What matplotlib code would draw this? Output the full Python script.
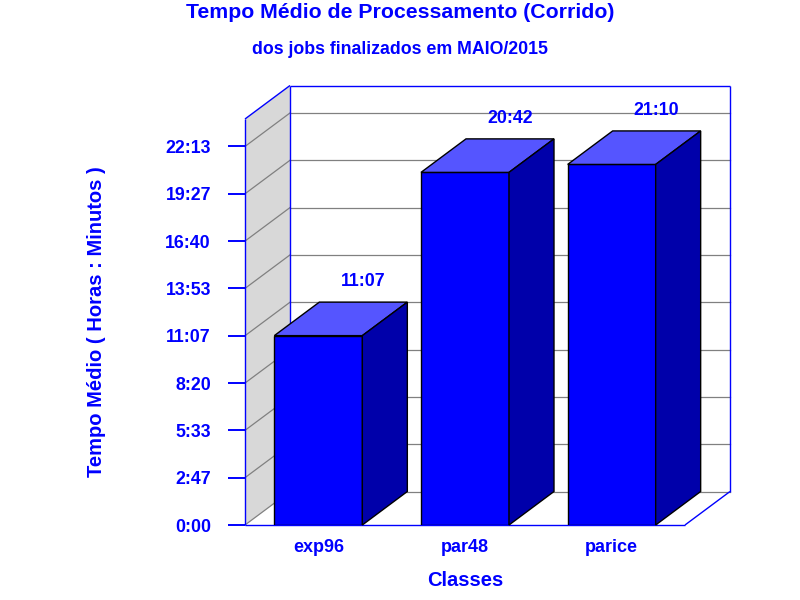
import numpy as np
import matplotlib.pyplot as plt
from matplotlib.patches import Polygon

plt.rcParams["font.family"] = ["Liberation Sans", "DejaVu Sans"]
plt.rcParams["font.weight"] = "bold"

# data
classes = ["exp96", "par48", "parice"]
value_labels = ["11:07", "20:42", "21:10"]  # horas:minutos
tick_seconds = [0, 10000, 20000, 30000, 40000, 50000, 60000, 70000, 80000]
tick_labels = ["0:00", "2:47", "5:33", "8:20", "11:07", "13:53", "16:40", "19:27", "22:13"]
y_max = 85800

title = "Tempo Médio de Processamento (Corrido)"
subtitle = "dos jobs finalizados em MAIO/2015"
xlabel = "Classes"
ylabel = "Tempo Médio ( Horas : Minutos )"

BLUE = "#0000FF"
TOP = "#5555FF"
SIDE = "#0000AA"
WALL = "#D8D8D8"
GRID = "#808080"
TXT = "#0000FF"

# pseudo 3D depth in pixels
DX_PX, DY_PX = 45, 33.5


def hm_to_seconds(s):
    h, m = s.split(":")
    return int(h) * 3600 + int(m) * 60


values = [hm_to_seconds(v) for v in value_labels]

fig = plt.figure(figsize=(8, 6), dpi=100)
W, H = 800, 600
ax = fig.add_axes([245 / W, 1 - 525 / H, 440 / W, 406 / H])
xmin, xmax = -0.5, 2.5
ax.set_xlim(xmin, xmax)
ax.set_ylim(0, y_max)
for sp in ax.spines.values():
    sp.set_visible(False)

# pixel depth -> data units
dx = DX_PX * (xmax - xmin) / 440
dy = DY_PX * y_max / 406

# side wall (left)
ax.add_patch(Polygon([(xmin, 0), (xmin + dx, dy), (xmin + dx, y_max + dy), (xmin, y_max)],
                     closed=True, facecolor=WALL, edgecolor="none", zorder=0.5, clip_on=False))
# floor
ax.add_patch(Polygon([(xmin, 0), (xmax, 0), (xmax + dx, dy), (xmin + dx, dy)],
                     closed=True, facecolor="white", edgecolor="none", zorder=0.5, clip_on=False))

# gridlines on back wall and side wall
for t in tick_seconds:
    ax.plot([xmin + dx, xmax + dx], [t + dy, t + dy], color=GRID, lw=0.9, zorder=1, clip_on=False)
    ax.plot([xmin, xmin + dx], [t, t + dy], color=GRID, lw=0.9, zorder=1, clip_on=False)

# blue frame lines
frame_kw = dict(color=BLUE, lw=1.0, zorder=1.5, clip_on=False, solid_capstyle="butt")
ax.plot([xmin, xmin], [0, y_max], **frame_kw)
ax.plot([xmin, xmin + dx], [y_max, y_max + dy], **frame_kw)
ax.plot([xmin + dx, xmin + dx], [dy, y_max + dy], **frame_kw)
ax.plot([xmin + dx, xmax + dx], [y_max + dy, y_max + dy], **frame_kw)
ax.plot([xmax + dx, xmax + dx], [dy, y_max + dy], **frame_kw)
ax.plot([xmin, xmax], [0, 0], **frame_kw)
ax.plot([xmax, xmax + dx], [0, dy], **frame_kw)

# bars
xs = np.arange(len(classes))
bw = 0.6
ax.bar(xs, values, width=bw, color=BLUE, edgecolor="black", linewidth=1.0, zorder=3)
for x, h, lab in zip(xs, values, value_labels):
    x0, x1 = x - bw / 2, x + bw / 2
    ax.add_patch(Polygon([(x0, h), (x1, h), (x1 + dx, h + dy), (x0 + dx, h + dy)],
                         closed=True, facecolor=TOP, edgecolor="black", lw=1.0, zorder=3, clip_on=False))
    ax.add_patch(Polygon([(x1, 0), (x1 + dx, dy), (x1 + dx, h + dy), (x1, h)],
                         closed=True, facecolor=SIDE, edgecolor="black", lw=1.0, zorder=3, clip_on=False))
    ax.annotate(lab, (x + dx, h + dy), xytext=(0, 14.5), textcoords="offset points",
                ha="center", va="center", color=TXT, fontsize=12.8, fontweight="bold")

# axes ticks
ax.set_yticks(tick_seconds)
ax.set_yticklabels(tick_labels)
ax.tick_params(axis="y", length=12.5, width=1.4, color=BLUE, pad=12, labelsize=12.8, labelcolor=TXT)
ax.set_xticks(xs)
ax.set_xticklabels(classes)
ax.tick_params(axis="x", length=0, pad=10, labelsize=13, labelcolor=TXT)

fig.text(0.5, 1 - 12 / H, title, ha="center", va="center", fontsize=15.3, color=TXT, fontweight="bold")
fig.text(0.5, 1 - 50 / H, subtitle, ha="center", va="center", fontsize=12.8, color=TXT, fontweight="bold")
fig.text(465 / W, 1 - 580 / H, xlabel, ha="center", va="center", fontsize=14.5, color=TXT, fontweight="bold")
fig.text(97 / W, 1 - 322 / H, ylabel, ha="center", va="center", rotation=90, fontsize=14.5,
         color=TXT, fontweight="bold")

fig.savefig("out.png", dpi=100, facecolor="white")
